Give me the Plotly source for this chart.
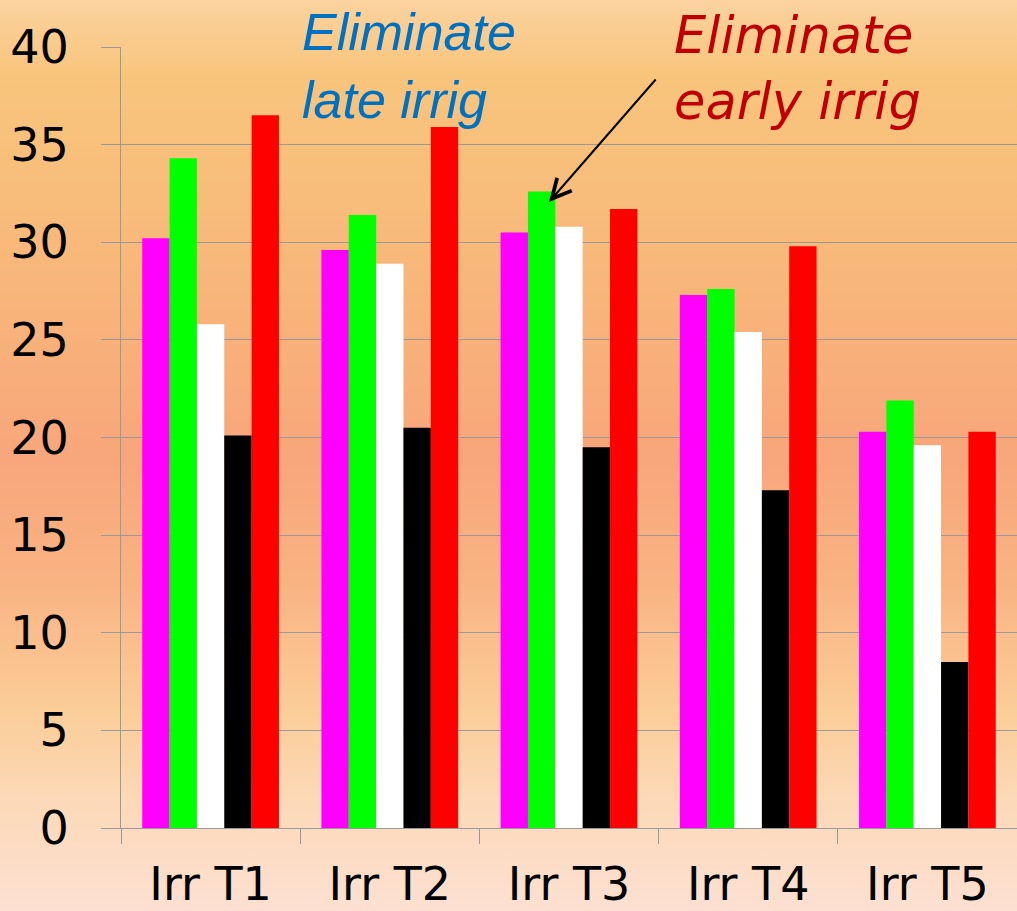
import base64
import plotly.graph_objects as go

# Irrigation timing treatments along the x axis
categories = ["Irr T1", "Irr T2", "Irr T3", "Irr T4", "Irr T5"]

# Five series per treatment
series_names = ["Series 1", "Series 2", "Series 3", "Series 4", "Series 5"]
magenta_vals = [30.2, 29.6, 30.5, 27.3, 20.3]
green_vals = [34.3, 31.4, 32.6, 27.6, 21.9]
white_vals = [25.8, 28.9, 30.8, 25.4, 19.6]
black_vals = [20.1, 20.5, 19.5, 17.3, 8.5]
red_vals = [36.5, 35.9, 31.7, 29.8, 20.3]

y_ticks = [0, 5, 10, 15, 20, 25, 30, 35, 40]

colors = ["#ff00ff", "#00ff00", "#ffffff", "#000000", "#ff0000"]
all_vals = [magenta_vals, green_vals, white_vals, black_vals, red_vals]

W, H = 1017, 911
ML, MR, MT, MB = 121, 0, 47, 83
PW, PH = W - ML - MR, H - MT - MB

fig = go.Figure()
for name, vals, col in zip(series_names, all_vals, colors):
    fig.add_trace(go.Bar(x=categories, y=vals, name=name,
                         marker=dict(color=col, line=dict(width=0))))

# Vertical warm gradient for the whole page, as an inline SVG image
stops = [
    (0.00, "#fbd3a0"),
    (0.08, "#f8c57c"),
    (0.30, "#f8b77a"),
    (0.50, "#f8a67b"),
    (0.64, "#f9b383"),
    (0.78, "#fbcd98"),
    (0.88, "#fcd9b8"),
    (1.00, "#fde0d2"),
]
stop_xml = "".join(f"<stop offset='{o}' stop-color='{c}'/>" for o, c in stops)
svg = (f"<svg xmlns='http://www.w3.org/2000/svg' width='{W}' height='{H}' "
       f"viewBox='0 0 {W} {H}' preserveAspectRatio='none'>"
       f"<defs><linearGradient id='g' x1='0' y1='0' x2='0' y2='1'>{stop_xml}"
       f"</linearGradient></defs><rect width='{W}' height='{H}' fill='url(#g)'/></svg>")
bg_uri = "data:image/svg+xml;base64," + base64.b64encode(svg.encode()).decode()

fig.add_layout_image(dict(
    source=bg_uri, xref="paper", yref="paper",
    x=-ML / PW, y=1 + MT / PH, sizex=W / PW, sizey=H / PH,
    xanchor="left", yanchor="top", sizing="stretch", layer="below",
))

def px_x(p):
    return (p - ML) / PW

def px_y(p):
    return (H - MB - p) / PH

fig.add_annotation(
    text="<i>Eliminate<br>late irrig</i>", xref="paper", yref="paper",
    x=px_x(300), y=px_y(66), xanchor="left", yanchor="middle", align="left",
    showarrow=False,
    font=dict(family="Liberation Sans, Arial", size=52, color="#0070c0"),
)
fig.add_annotation(
    text="<i>Eliminate<br>early irrig</i>", xref="paper", yref="paper",
    x=px_x(672), y=px_y(69), xanchor="left", yanchor="middle", align="left",
    showarrow=False,
    font=dict(family="DejaVu Sans", size=51, color="#c00000"),
)
fig.add_annotation(
    text="", xref="paper", yref="paper", x=px_x(549), y=px_y(202),
    ax=108, ay=-124, showarrow=True, arrowhead=5, arrowsize=1.9,
    arrowwidth=2, arrowcolor="#000000", standoff=0,
)

fig.update_layout(
    width=W, height=H,
    margin=dict(l=ML, r=MR, t=MT, b=MB, autoexpand=False),
    barmode="group", bargap=0.237, bargroupgap=0,
    showlegend=False,
    paper_bgcolor="#fbd0a8", plot_bgcolor="rgba(0,0,0,0)",
    font=dict(family="DejaVu Sans", color="#000000"),
)
fig.update_xaxes(
    type="category", range=[-0.5, 4.5], automargin=False,
    showline=True, linecolor="#999999", linewidth=1,
    ticks="outside", tickson="boundaries", ticklen=15, tickcolor="#999999",
    tickfont=dict(family="DejaVu Sans", size=46, color="#000000"),
    ticklabelstandoff=16, showgrid=False,
)
fig.update_yaxes(
    range=[0, 40], tickvals=y_ticks, ticktext=[str(v) for v in y_ticks],
    automargin=False,
    showline=True, linecolor="#999999", linewidth=1,
    ticks="outside", ticklen=19, tickcolor="#999999",
    showgrid=True, gridcolor="#999999", gridwidth=1,
    zeroline=False,
    tickfont=dict(family="DejaVu Sans", size=46, color="#000000"),
    ticklabelstandoff=23,
)
fig.update_traces(selector=dict(type="bar"), cliponaxis=False)

fig.write_html("out.html")
